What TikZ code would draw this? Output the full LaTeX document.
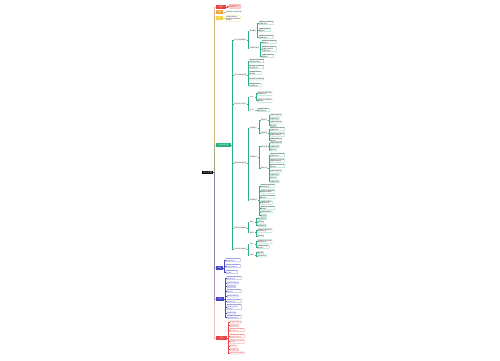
\documentclass[tikz,border=0pt]{standalone}
\usepackage{fontspec}
\setmainfont{Noto Sans CJK SC}
\definecolor{gr}{HTML}{2BB07F}
\definecolor{bl}{HTML}{4646C0}
\definecolor{rd}{HTML}{E64545}
\definecolor{orng}{HTML}{F2A53A}
\definecolor{yl}{HTML}{F3D23C}
\definecolor{pk}{HTML}{FBD3D3}
\newcommand\FA{内容要点说明文字}
\newcommand\FB{相关知识方法总结归纳}
\newcommand\FC{注意事项分析}
\newcommand\FD{重点难点}
% style, line style, parent, name, y, text
\newcommand\kid[6]{\node[#1,xshift=2.5pt] (#4) at (#3.east |- 0,#5) {#6};
  \draw[#2] (#3.east) -- ++(1.2pt,0) |- (#4.west);}
\begin{document}
\begin{tikzpicture}[x=1pt,y=-1pt,
  rootn/.style={fill=black,text=white,font=\fontsize{2.2}{2.5}\selectfont,inner sep=0.8pt,minimum width=11pt,anchor=west},
  lone/.style={fill=#1,text=white,font=\fontsize{1.6}{1.9}\selectfont,inner sep=0.5pt,minimum height=3.2pt,anchor=west},
  subn/.style={text=#1,font=\fontsize{1.5}{1.8}\selectfont,inner sep=0.35pt,anchor=west,align=left},
  subn/.default=black!85,
  leafn/.style={draw=#1!70,line width=0.25pt,rounded corners=0.3pt,text=black!85,font=\fontsize{1.35}{1.65}\selectfont,inner sep=0.4pt,anchor=west,align=left},
  gline/.style={draw=#1,line width=0.45pt},
  tline/.style={draw=#1!75!gray,line width=1pt,opacity=0.38}]
\path[use as bounding box,fill=white] (0,0) rectangle (500,360);
\node[rootn] (root) at (202,172.5) {中心主题};
% level 1
\kid{lone=rd,minimum width=10pt}{tline=rd}{root}{r1}{7}{概述}
\kid{lone=orng,minimum width=7pt}{tline=orng}{root}{o1}{12}{要点}
\kid{lone=yl,minimum width=7pt}{tline=yl}{root}{y1}{18}{提示}
\kid{lone=gr,minimum width=15pt}{tline=gr}{root}{g}{145}{核心知识内容}
\kid{lone=rd,minimum width=11pt}{tline=rd}{root}{r2}{338}{总结}
\kid{lone=bl,minimum width=8pt}{tline=bl}{root}{b2}{299}{练习}
\kid{lone=bl,minimum width=7pt}{tline=bl}{root}{b1}{268}{例题}
% top children
\kid{leafn=rd,fill=pk,text=rd}{gline=rd}{r1}{r1a}{6.5}{\FA\\\FC}
\kid{subn}{gline=orng}{o1}{o1a}{12}{\FB}
\kid{leafn=yl}{gline=yl}{y1}{y1a}{18.5}{\FA\\\FB\\\FD}
% green level 2
\kid{subn}{gline=gr}{g}{gA}{40}{第一部分基础知识}
\kid{subn}{gline=gr}{g}{gB}{75}{第二部分重点内容}
\kid{subn}{gline=gr}{g}{gC}{104}{第三部分方法技巧}
\kid{subn}{gline=gr}{g}{gD}{163}{第四部分综合应用}
\kid{subn}{gline=gr}{g}{gE}{228}{第五部分拓展延伸}
\kid{subn}{gline=gr}{g}{gF}{249}{第六部分归纳总结}
% A
\kid{subn}{gline=gr}{gA}{gA1}{31}{基本概念}
\kid{subn}{gline=gr}{gA}{gA2}{48}{主要特点说明}
\kid{leafn=gr}{gline=gr}{gA1}{a11}{23}{\FB\\\FC}
\kid{leafn=gr}{gline=gr}{gA1}{a12}{30}{\FA\\\FD}
\kid{leafn=gr}{gline=gr}{gA1}{a13}{37}{\FB\\\FC}
\kid{leafn=gr}{gline=gr}{gA2}{a21}{42}{\FB\\\FD}
\kid{leafn=gr}{gline=gr}{gA2}{a22}{49}{\FB\\\FA\\\FC}
\kid{leafn=gr}{gline=gr}{gA2}{a23}{56}{\FA\\\FD}
% B
\kid{leafn=gr}{gline=gr}{gB}{b01}{61}{\FB\\\FA}
\kid{leafn=gr}{gline=gr}{gB}{b02}{67}{\FB\\\FC}
\kid{leafn=gr}{gline=gr}{gB}{b03}{73}{\FA\\\FD}
\kid{leafn=gr}{gline=gr}{gB}{b04}{79}{\FB}
\kid{leafn=gr}{gline=gr}{gB}{b05}{85}{\FA\\\FC}
% C
\kid{subn}{gline=gr}{gC}{gC1}{97}{方法一}
\kid{subn}{gline=gr}{gC}{gC2}{110}{方法二}
\kid{leafn=gr}{gline=gr}{gC1}{c11}{93.5}{\FB\\\FC}
\kid{leafn=gr}{gline=gr}{gC1}{c12}{100.5}{\FB\\\FD}
\kid{leafn=gr}{gline=gr}{gC2}{c21}{110}{\FA\\\FC}
% D
\kid{subn}{gline=gr}{gD}{gD1}{128}{应用类型一}
\kid{subn}{gline=gr}{gD}{gD2}{157}{应用类型二}
\kid{subn}{gline=gr}{gD}{gD3}{200}{应用类型三}
\kid{subn}{gline=gr}{gD1}{gD1a}{120}{典型例子}
\kid{subn}{gline=gr}{gD1}{gD1b}{133}{解题步骤}
\kid{leafn=gr}{gline=gr}{gD1a}{d11}{115}{\FA}
\kid{leafn=gr}{gline=gr}{gD1a}{d12}{118.5}{\FC}
\kid{leafn=gr}{gline=gr}{gD1a}{d13}{122}{\FA}
\kid{leafn=gr}{gline=gr}{gD1a}{d14}{125.5}{\FD}
\kid{leafn=gr}{gline=gr}{gD1b}{d21}{129}{\FB\\\FC}
\kid{leafn=gr}{gline=gr}{gD1b}{d22}{134.5}{\FB\\\FA}
\kid{leafn=gr}{gline=gr}{gD1b}{d23}{140}{\FA\\\FD}
\kid{subn}{gline=gr}{gD2}{gD2a}{146.5}{常见问题}
\kid{subn}{gline=gr}{gD2}{gD2b}{168}{解决方法}
\kid{leafn=gr}{gline=gr}{gD2a}{d31}{143}{\FA}
\kid{leafn=gr}{gline=gr}{gD2a}{d32}{146.5}{\FC}
\kid{leafn=gr}{gline=gr}{gD2a}{d33}{150}{\FD}
\kid{leafn=gr}{gline=gr}{gD2b}{d41}{155}{\FB\\\FC}
\kid{leafn=gr}{gline=gr}{gD2b}{d42}{160.5}{\FB\\\FA}
\kid{leafn=gr}{gline=gr}{gD2b}{d43}{166}{\FB\\\FD}
\kid{leafn=gr}{gline=gr}{gD2b}{d44}{171}{\FA}
\kid{leafn=gr}{gline=gr}{gD2b}{d45}{174.5}{\FC}
\kid{leafn=gr}{gline=gr}{gD2b}{d46}{178}{\FD}
\kid{leafn=gr}{gline=gr}{gD2b}{d47}{181.5}{\FC}
\kid{leafn=gr}{gline=gr}{gD3}{d51}{186}{\FB\\\FC}
\kid{leafn=gr}{gline=gr}{gD3}{d52}{191.5}{\FB\\\FA}
\kid{leafn=gr}{gline=gr}{gD3}{d53}{197}{\FB\\\FD}
\kid{leafn=gr}{gline=gr}{gD3}{d54}{202.5}{\FA\\\FC}
\kid{leafn=gr}{gline=gr}{gD3}{d55}{208}{\FB\\\FD}
\kid{leafn=gr}{gline=gr}{gD3}{d56}{212}{\FA}
\kid{leafn=gr}{gline=gr}{gD3}{d57}{215.5}{\FD}
% E
\kid{subn}{gline=gr}{gE}{gE1}{222}{拓展一}
\kid{subn}{gline=gr}{gE}{gE2}{232.5}{拓展二}
\kid{leafn=gr}{gline=gr}{gE1}{e11}{218.5}{\FC}
\kid{leafn=gr}{gline=gr}{gE1}{e12}{222}{\FD}
\kid{leafn=gr}{gline=gr}{gE1}{e13}{225.5}{\FC}
\kid{leafn=gr}{gline=gr}{gE2}{e21}{230.5}{\FB\\\FC}
\kid{leafn=gr}{gline=gr}{gE2}{e22}{236}{\FD}
% F
\kid{subn}{gline=gr}{gF}{gF1}{244}{归纳一}
\kid{subn}{gline=gr}{gF}{gF2}{255}{归纳二}
\kid{leafn=gr}{gline=gr}{gF1}{f11}{241.5}{\FB\\\FC}
\kid{leafn=gr}{gline=gr}{gF1}{f12}{247}{\FA\\\FD}
\kid{leafn=gr}{gline=gr}{gF2}{f21}{252.5}{\FD}
\kid{leafn=gr}{gline=gr}{gF2}{f22}{256}{\FC}
% blue 1
\kid{leafn=bl,text=bl}{gline=bl}{b1}{p11}{260}{\FB\\\FC}
\kid{leafn=bl,text=bl}{gline=bl}{b1}{p12}{266}{\FB\\\FA}
\kid{leafn=bl,text=bl}{gline=bl}{b1}{p13}{272}{\FA\\\FD}
% blue 2
\kid{leafn=bl,text=bl}{gline=bl}{b2}{p21}{278}{\FB\\\FC}
\kid{leafn=bl,text=bl}{gline=bl}{b2}{p22}{283}{\FA}
\kid{leafn=bl,text=bl}{gline=bl}{b2}{p23}{286.5}{\FC}
\kid{leafn=bl,text=bl}{gline=bl}{b2}{p24}{291}{\FB\\\FD}
\kid{leafn=bl,text=bl}{gline=bl}{b2}{p25}{296}{\FA}
\kid{leafn=bl,text=bl}{gline=bl}{b2}{p26}{301}{\FB\\\FC}
\kid{leafn=bl,text=bl}{gline=bl}{b2}{p27}{307}{\FB\\\FA\\\FD}
\kid{leafn=bl,text=bl}{gline=bl}{b2}{p28}{313}{\FC}
\kid{leafn=bl,text=bl}{gline=bl}{b2}{p29}{317}{\FB\\\FA}
% red 2
\kid{leafn=rd,text=rd}{gline=rd}{r2}{q1}{322}{\FA}
\kid{leafn=rd,text=rd}{gline=rd}{r2}{q2}{325.5}{\FC}
\kid{leafn=rd,text=rd}{gline=rd}{r2}{q3}{330}{\FB\\\FC}
\kid{leafn=rd,text=rd}{gline=rd}{r2}{q4}{336}{\FB\\\FA}
\kid{leafn=rd,text=rd}{gline=rd}{r2}{q5}{341.5}{\FB\\\FD}
\kid{leafn=rd,text=rd}{gline=rd}{r2}{q6}{346}{\FD}
\kid{leafn=rd,text=rd}{gline=rd}{r2}{q7}{349.5}{\FC}
\kid{leafn=rd,text=rd}{gline=rd}{r2}{q8}{353}{\FB}
\end{tikzpicture}
\end{document}
